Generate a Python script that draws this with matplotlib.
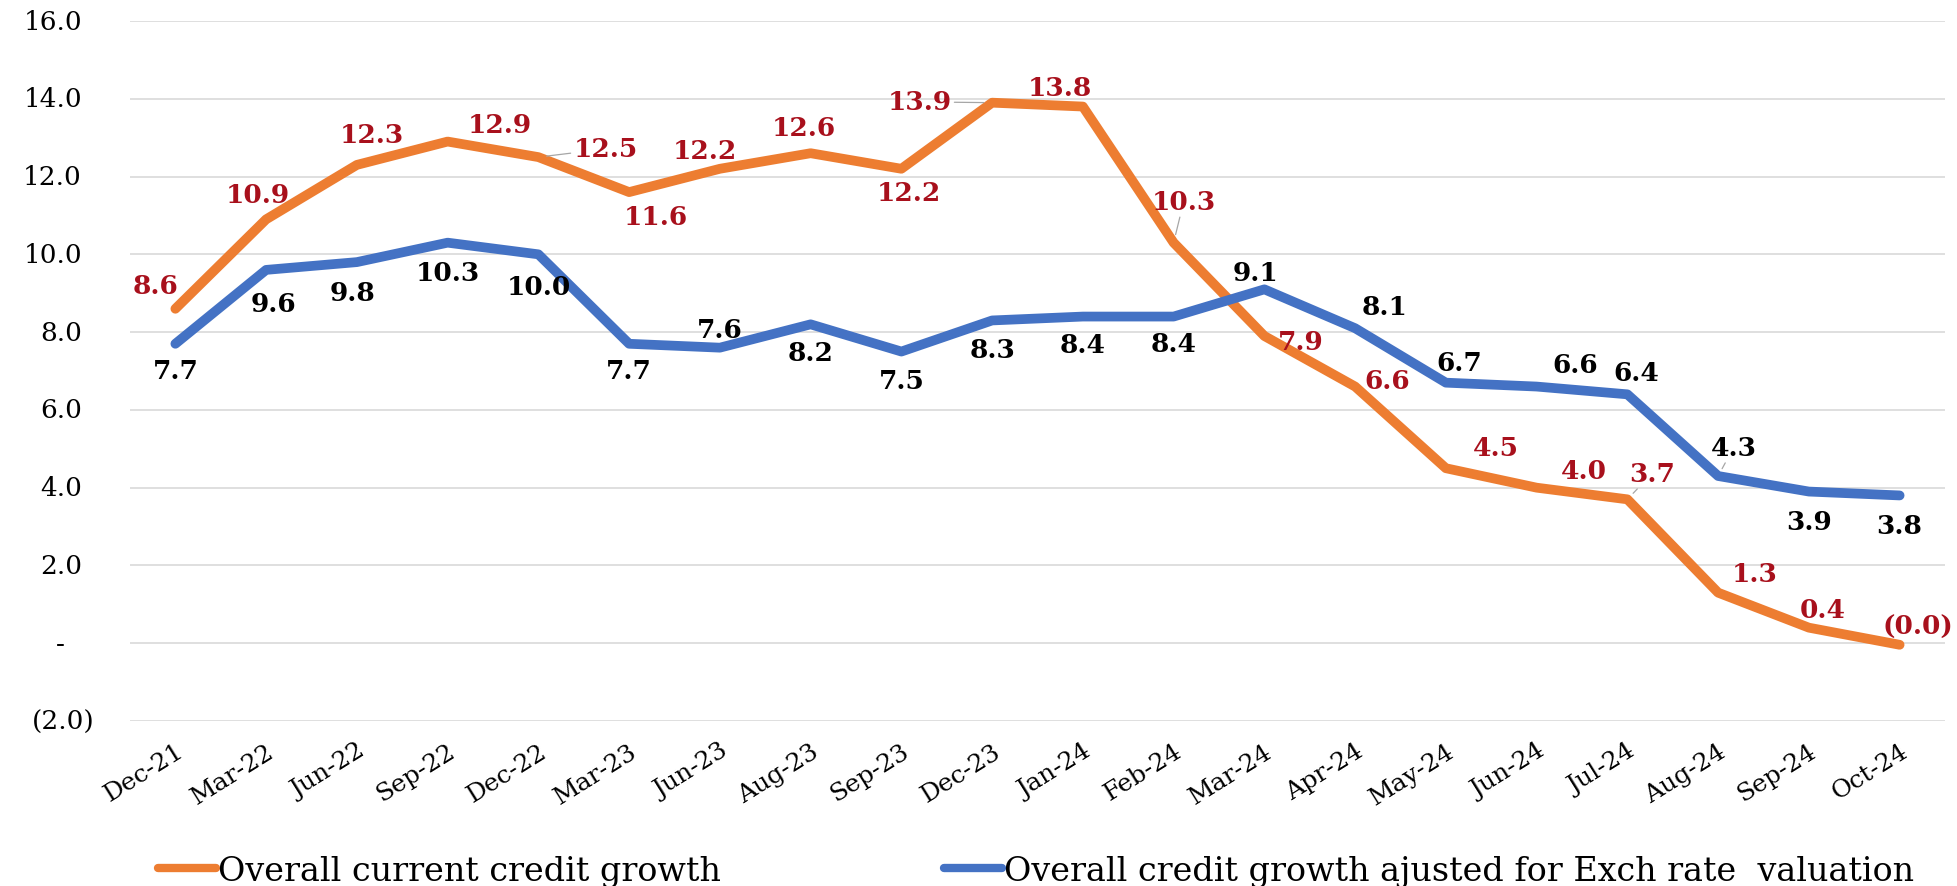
import matplotlib
matplotlib.use('Agg')
import matplotlib.pyplot as plt
from matplotlib.transforms import ScaledTranslation

plt.rcParams['font.family'] = ['DejaVu Serif']

months = ['Dec-21', 'Mar-22', 'Jun-22', 'Sep-22', 'Dec-22', 'Mar-23', 'Jun-23',
          'Aug-23', 'Sep-23', 'Dec-23', 'Jan-24', 'Feb-24', 'Mar-24', 'Apr-24',
          'May-24', 'Jun-24', 'Jul-24', 'Aug-24', 'Sep-24', 'Oct-24']
current_growth = [8.6, 10.9, 12.3, 12.9, 12.5, 11.6, 12.2, 12.6, 12.2, 13.9,
                  13.8, 10.3, 7.9, 6.6, 4.5, 4.0, 3.7, 1.3, 0.4, -0.04]
adjusted_growth = [7.7, 9.6, 9.8, 10.3, 10.0, 7.7, 7.6, 8.2, 7.5, 8.3,
                   8.4, 8.4, 9.1, 8.1, 6.7, 6.6, 6.4, 4.3, 3.9, 3.8]
y_ticks = [-2, 0, 2, 4, 6, 8, 10, 12, 14, 16]

# label placement relative to each point: (categories, percentage points)
current_offsets = [(-0.22, 0.6), (-0.09, 0.64), (0.17, 0.77), (0.57, 0.43),
                   (0.74, 0.21), (0.29, -0.63), (-0.17, 0.47), (-0.07, 0.67),
                   (0.08, -0.62), (-0.8, 0.02), (-0.25, 0.49), (0.11, 1.05),
                   (0.4, -0.15), (0.35, 0.15), (0.55, 0.53), (0.52, 0.43),
                   (0.27, 0.66), (0.4, 0.5), (0.15, 0.47), (0.2, 0.47)]
adjusted_offsets = [(0, -0.69), (0.08, -0.86), (-0.05, -0.77), (0, -0.77),
                    (0, -0.82), (0, -0.69), (0, 0.47), (0, -0.73),
                    (0, -0.75), (0, -0.75), (0, -0.73), (0, -0.7),
                    (-0.1, 0.43), (0.32, 0.56), (0.15, 0.52), (0.42, 0.56),
                    (0.1, 0.56), (0.17, 0.73), (0, -0.77), (0, -0.77)]
current_leaders = [4, 9, 11, 16]
adjusted_leaders = [17]

ORANGE = '#ED7D31'
BLUE = '#4472C4'
RED = '#A8101C'


def acct(v):
    # accounting style: zero as dash, negatives in brackets
    if v == 0:
        return '-'
    if v < 0:
        return '({:.1f})'.format(abs(v))
    return '{:.1f}'.format(v)


fig, ax = plt.subplots(figsize=(19.57, 8.87), dpi=100)
fig.subplots_adjust(left=130 / 1957, right=1945 / 1957,
                    top=1 - 22 / 887, bottom=1 - 722 / 887)

x = list(range(len(months)))
l1, = ax.plot(x, current_growth, color=ORANGE, lw=7,
              solid_capstyle='round', solid_joinstyle='round', zorder=3)
l2, = ax.plot(x, adjusted_growth, color=BLUE, lw=7,
              solid_capstyle='round', solid_joinstyle='round', zorder=4)

ax.set_xlim(-0.5, len(months) - 0.5)
ax.set_ylim(-2, 16)
ax.set_yticks(y_ticks)
ax.grid(axis='y', color='#D9D9D9', lw=1.2)
ax.set_axisbelow(True)
for s in ax.spines.values():
    s.set_visible(False)
ax.tick_params(axis='both', length=0)
ax.tick_params(axis='y', labelleft=False)

ax.set_xticks(x)
ax.set_xticklabels(months, rotation=32, ha='right', va='top',
                   rotation_mode='anchor', fontsize=18)
ax.tick_params(axis='x', pad=13)

# y labels drawn by hand so the brackets hang past the digits
ytrans = ax.get_yaxis_transform()
for v in y_ticks:
    s = acct(v)
    if s == '-':
        off, ha = -70, 'center'
    elif s.startswith('('):
        off, ha = -35, 'right'
    else:
        off, ha = -48, 'right'
    ax.text(0, v, s, ha=ha, va='center', fontsize=19, clip_on=False,
            transform=ytrans + ScaledTranslation(off / 100, 0, fig.dpi_scale_trans))

leader = dict(arrowstyle='-', color='#A6A6A6', lw=0.9, shrinkA=0, shrinkB=6)

for i, v in enumerate(current_growth):
    dx, dy = current_offsets[i]
    ax.annotate(acct(v), xy=(i, v), xytext=(i + dx, v + dy),
                ha='center', va='center', color=RED, fontsize=19,
                fontweight='bold', zorder=6,
                arrowprops=leader if i in current_leaders else None)

for i, v in enumerate(adjusted_growth):
    dx, dy = adjusted_offsets[i]
    ax.annotate(acct(v), xy=(i, v), xytext=(i + dx, v + dy),
                ha='center', va='center', color='black', fontsize=19,
                fontweight='bold', zorder=6,
                arrowprops=leader if i in adjusted_leaders else None)

leg_y = 1 - 872 / 887
leg1 = fig.legend([l1], ['Overall current credit growth'], loc='center left',
                  bbox_to_anchor=(158 / 1957, leg_y), frameon=False, fontsize=24,
                  handlelength=1.75, handletextpad=0.05, borderpad=0,
                  borderaxespad=0)
leg2 = fig.legend([l2], ['Overall credit growth ajusted for Exch rate  valuation'],
                  loc='center left', bbox_to_anchor=(944 / 1957, leg_y),
                  frameon=False, fontsize=24, handlelength=1.75,
                  handletextpad=0.05, borderpad=0, borderaxespad=0)
for leg in (leg1, leg2):
    for h in leg.get_lines():
        h.set_linewidth(6)

fig.savefig('out.png', dpi=100)
